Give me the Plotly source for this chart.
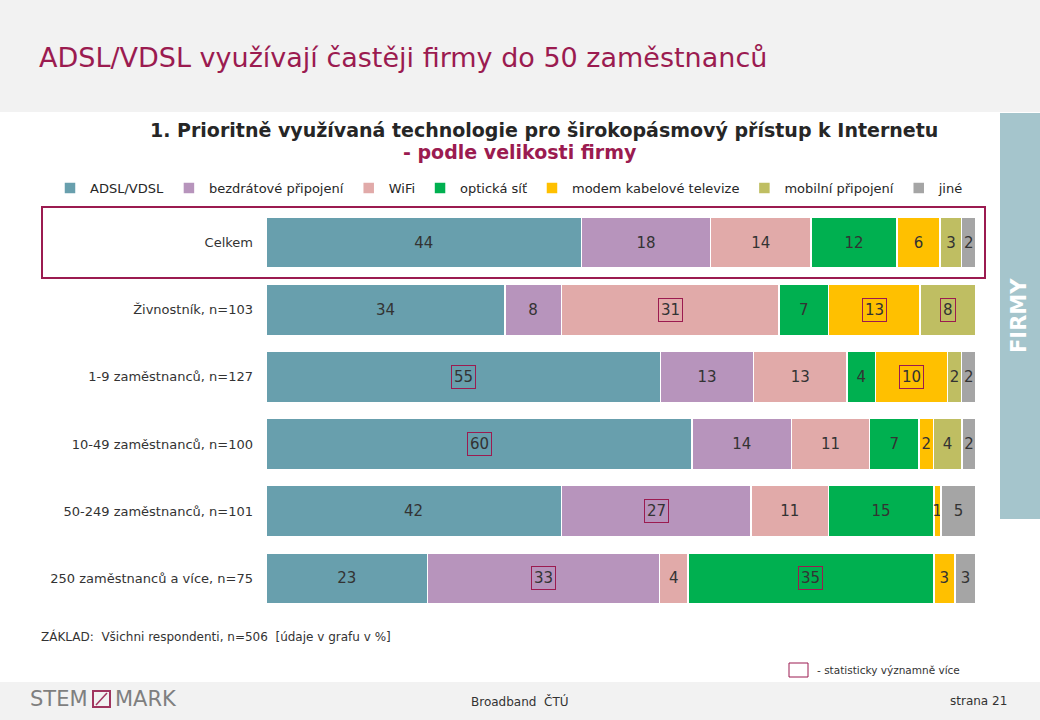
import plotly.graph_objects as go

# ---------------- data ----------------
categories = ["Celkem", "Živnostník, n=103", "1-9 zaměstnanců, n=127",
              "10-49 zaměstnanců, n=100", "50-249 zaměstnanců, n=101",
              "250 zaměstnanců a více, n=75"]
series_names = ["ADSL/VDSL", "bezdrátové připojení", "WiFi", "optická síť",
                "modem kabelové televize", "mobilní připojení", "jiné"]
adsl = [44, 34, 55, 60, 42, 23]
bezdrat = [18, 8, 13, 14, 27, 33]
wifi = [14, 31, 13, 11, 11, 4]
opticka = [12, 7, 4, 7, 15, 35]
modem = [6, 13, 10, 2, 1, 3]
mobilni = [3, 8, 2, 4, 0, 0]
jine = [2, 0, 2, 2, 5, 3]
# significantly higher (boxed) flags, per series
sig_adsl = [0, 0, 1, 1, 0, 0]
sig_bezdrat = [0, 0, 0, 0, 1, 1]
sig_wifi = [0, 1, 0, 0, 0, 0]
sig_opticka = [0, 0, 0, 0, 0, 1]
sig_modem = [0, 1, 1, 0, 0, 0]
sig_mobilni = [0, 1, 0, 0, 0, 0]
sig_jine = [0, 0, 0, 0, 0, 0]

series_values = [adsl, bezdrat, wifi, opticka, modem, mobilni, jine]
series_sig = [sig_adsl, sig_bezdrat, sig_wifi, sig_opticka, sig_modem, sig_mobilni, sig_jine]
colors = ["#689fad", "#b794bc", "#e1aaa9", "#00b050", "#ffc000", "#bfbe62", "#a5a5a5"]

# ---------------- layout geometry ----------------
W, H = 1040, 720
L, R, T, B = 266, 64, 209, 108
PW, PH = W - L - R, H - T - B
MAROON = "#9b1b50"
TXT = "#333333"
FONT = "DejaVu Sans"


def px_x(p):
    return (p - L) / PW


def px_y(p):
    return (H - B - p) / PH


fig = go.Figure()

totals = [sum(s[i] for s in series_values) for i in range(len(categories))]
cum = [0.0] * len(categories)
annotations = []
for name, vals, sig, col in zip(series_names, series_values, series_sig, colors):
    texts = []
    for i, v in enumerate(vals):
        if v == 0 or sig[i]:
            texts.append("")
        else:
            texts.append(str(v))
        norm = v / totals[i] * 100
        if sig[i] and v:
            annotations.append(dict(
                x=cum[i] + norm / 2, y=categories[i], xref="x", yref="y",
                text=str(v), showarrow=False,
                font=dict(family=FONT, size=15, color=TXT),
                bordercolor=MAROON, borderwidth=1, borderpad=2))
        cum[i] += norm
    fig.add_trace(go.Bar(
        name=name, y=categories, x=vals, orientation="h",
        marker=dict(color=col, line=dict(color="white", width=1.5)),
        text=texts, textposition="inside", insidetextanchor="middle",
        textangle=0, constraintext="none",
        textfont=dict(family=FONT, size=15, color=TXT),
        hoverinfo="x+y+name"))

shapes = [
    # top gray band
    dict(type="rect", xref="paper", yref="paper", x0=px_x(0), x1=px_x(W),
         y0=px_y(112), y1=px_y(0), fillcolor="#f2f2f2", line=dict(width=0), layer="below"),
    # bottom gray band
    dict(type="rect", xref="paper", yref="paper", x0=px_x(0), x1=px_x(W),
         y0=px_y(H), y1=px_y(682), fillcolor="#f2f2f2", line=dict(width=0), layer="below"),
    # right FIRMY band
    dict(type="rect", xref="paper", yref="paper", x0=px_x(1000), x1=px_x(W),
         y0=px_y(519), y1=px_y(113), fillcolor="#a5c5cc", line=dict(width=0), layer="below"),
    # Celkem highlight box
    dict(type="rect", xref="paper", yref="paper", x0=px_x(42), x1=px_x(985),
         y0=px_y(278), y1=px_y(207), line=dict(color=MAROON, width=2)),
    # significance legend box
    dict(type="rect", xref="paper", yref="paper", x0=px_x(789), x1=px_x(808),
         y0=px_y(677), y1=px_y(663), line=dict(color=MAROON, width=1)),
    # logo box
    dict(type="rect", xref="paper", yref="paper", x0=px_x(93), x1=px_x(110),
         y0=px_y(707), y1=px_y(691), line=dict(color="#a0355f", width=2)),
    dict(type="line", xref="paper", yref="paper", x0=px_x(96), x1=px_x(107),
         y0=px_y(705), y1=px_y(693), line=dict(color="#a0355f", width=1.5)),
]


def txt(x, y, text, size, color=TXT, xanchor="left", bold=False, family=FONT, angle=0):
    return dict(x=px_x(x), y=px_y(y), xref="paper", yref="paper", text=text,
                showarrow=False, xanchor=xanchor, yanchor="middle", textangle=angle,
                font=dict(family=family, size=size, color=color,
                          weight="bold" if bold else "normal"))


annotations += [
    txt(37, 57, "ADSL/VDSL využívají častěji firmy do 50 zaměstnanců", 27, color=MAROON),
    txt(544, 130, "1. Prioritně využívaná technologie pro širokopásmový přístup k Internetu",
        19, color="#262626", xanchor="center", bold=True),
    txt(520, 152, "- podle velikosti firmy", 19, color=MAROON, xanchor="center", bold=True),
    txt(1019, 315, "FIRMY", 21, color="white", xanchor="center", bold=True, angle=-90),
    txt(39, 636, "ZÁKLAD:  Všichni respondenti, n=506  [údaje v grafu v %]", 12),
    txt(815, 670, "- statisticky významně více", 10.5),
    txt(28, 699, "STEM", 21, color="#7f7f7f"),
    txt(113, 699, "MARK", 21, color="#7f7f7f"),
    txt(520, 701, "Broadband  ČTÚ", 12, xanchor="center"),
    txt(1009, 701, "strana 21", 12, xanchor="right"),
]

fig.update_layout(
    width=W, height=H,
    margin=dict(l=L, r=R, t=T, b=B, pad=0),
    barmode="stack", barnorm="percent", bargap=0.24,
    paper_bgcolor="white", plot_bgcolor="white",
    font=dict(family=FONT, color=TXT),
    showlegend=True,
    legend=dict(orientation="h", x=px_x(50), xanchor="left", y=px_y(188), yanchor="middle",
                font=dict(family=FONT, size=13, color="#262626"),
                itemwidth=30, tracegroupgap=0, bgcolor="rgba(0,0,0,0)",
                traceorder="normal", itemclick=False),
    xaxis=dict(range=[0, 100], visible=False, fixedrange=True),
    yaxis=dict(autorange="reversed", showgrid=False, zeroline=False, showline=False,
               ticks="", ticklabelstandoff=12,
               tickfont=dict(family=FONT, size=13, color=TXT), fixedrange=True),
    shapes=shapes, annotations=annotations,
)

fig.write_html("out.html", config={"displayModeBar": False},
               post_script="document.body.style.margin='0';document.body.style.overflow='hidden';")
